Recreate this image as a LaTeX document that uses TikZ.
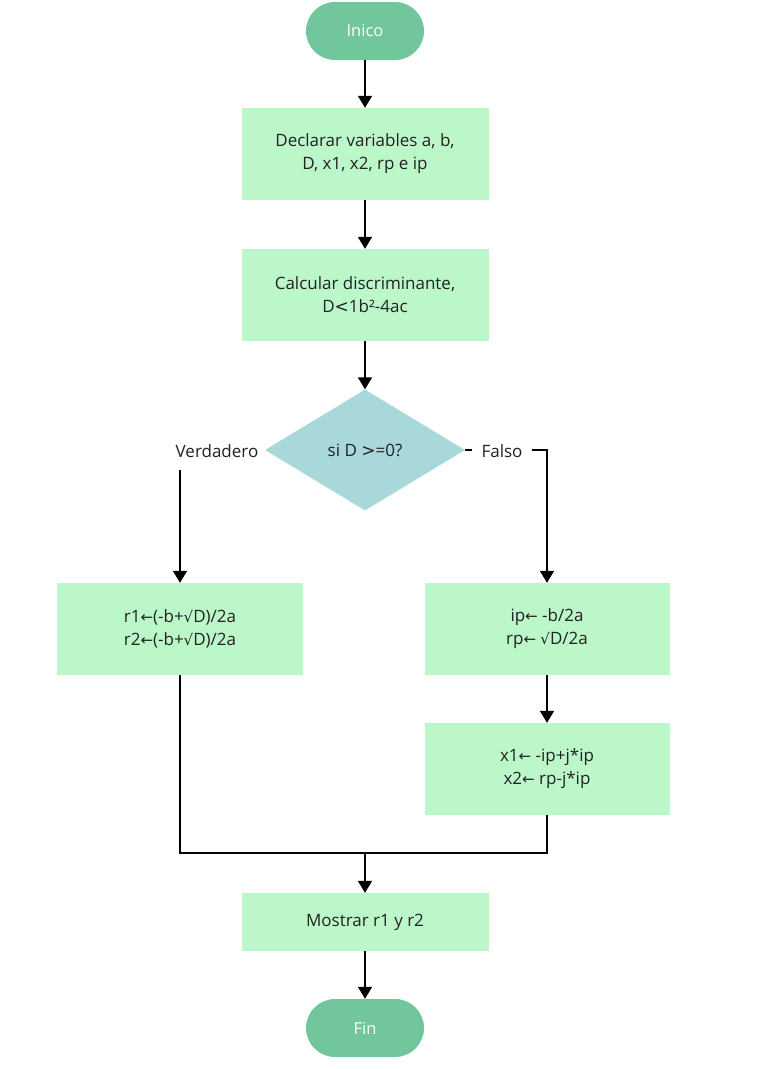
\documentclass[tikz,border=0pt]{standalone}
\usepackage{fontspec}
\setmainfont{Open Sans}
\newfontfamily\symf{DejaVu Sans}
\usetikzlibrary{shapes.geometric,arrows.meta}
\newcommand{\la}{{\symf\fontsize{15}{15}\selectfont ←}}
\newcommand{\sq}{{\symf\fontsize{15}{15}\selectfont √}}
\definecolor{pillgreen}{RGB}{114,198,155}
\definecolor{boxgreen}{RGB}{187,247,200}
\definecolor{decblue}{RGB}{168,216,218}
\definecolor{inkgray}{RGB}{34,34,34}
\tikzset{
  startstop/.style={rectangle, rounded corners=29pt, fill=pillgreen, text=white,
    minimum width=118pt, minimum height=58pt, font=\fontsize{16.5}{22}\selectfont},
  procbox/.style={rectangle, fill=boxgreen, text=inkgray, align=center,
    minimum width=247pt, minimum height=92pt, font=\fontsize{17}{23}\selectfont},
  decision/.style={diamond, fill=decblue, text=inkgray, aspect=1.65, inner sep=0pt,
    minimum width=200pt, minimum height=121pt, font=\fontsize{17}{23}\selectfont},
  branchlbl/.style={fill=white, text=inkgray, inner xsep=8pt, inner ysep=12pt,
    font=\fontsize{17}{23}\selectfont},
  flowline/.style={line width=1.8pt, -{Triangle[width=14pt,length=12pt]}},
}
\begin{document}
\begin{tikzpicture}[x=1pt,y=-1pt]
  \useasboundingbox (0,0) rectangle (758,1069);
  % nodes
  \node[startstop] (start) at (365,31) {Inico};
  \node[procbox] (declare) at (365,154) {Declarar variables a, b,\\D, x1, x2, rp e ip};
  \node[procbox] (discr) at (365,295) {Calcular discriminante,\\D{\symf<}1b²-4ac};
  \node[decision] (check) at (365,450) {si D {\symf>}=0?};
  \node[procbox, minimum width=246pt] (realroots) at (180,629) {r1\la(-b+\sq D)/2a\\r2\la(-b+\sq D)/2a};
  \node[procbox, minimum width=245pt] (parts) at (547,629) {ip\la\ -b/2a\\rp\la\ \sq D/2a};
  \node[procbox, minimum width=245pt] (cplxroots) at (547,769) {x1\la\ -ip+j*ip\\x2\la\ rp-j*ip};
  \node[procbox, minimum height=58pt] (show) at (365,922) {Mostrar r1 y r2};
  \node[startstop] (stop) at (365,1028) {Fin};
  \coordinate (join) at (365,853);
  % connectors
  \draw[flowline] (start) -- (declare);
  \draw[flowline] (declare) -- (discr);
  \draw[flowline] (discr) -- (check);
  \draw[flowline] (check.west) -| (realroots.north);
  \draw[flowline] (check.east) -| (parts.north);
  \draw[flowline] (parts) -- (cplxroots);
  \draw[line width=1.8pt] (realroots.south) |- (join);
  \draw[line width=1.8pt] (cplxroots.south) |- (join);
  \draw[flowline] (join) -- (show);
  \draw[flowline] (show) -- (stop);
  % branch labels
  \node[branchlbl] (yes) at (217,451) {Verdadero};
  \node[branchlbl, inner xsep=10pt] (no) at (502,451) {Falso};
\end{tikzpicture}
\end{document}
